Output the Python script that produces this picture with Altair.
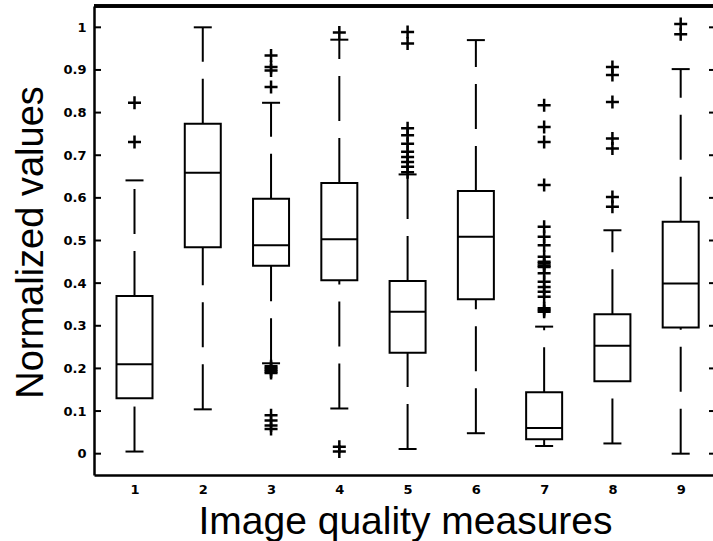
import altair as alt
import pandas as pd

# ---- data ----
measures = [1, 2, 3, 4, 5, 6, 7, 8, 9]
q1 = [0.130, 0.484, 0.441, 0.407, 0.237, 0.362, 0.034, 0.170, 0.296]
medians = [0.210, 0.659, 0.489, 0.503, 0.333, 0.509, 0.060, 0.253, 0.399]
q3 = [0.370, 0.774, 0.598, 0.635, 0.405, 0.616, 0.144, 0.327, 0.544]
whisker_low = [0.005, 0.104, 0.212, 0.106, 0.011, 0.048, 0.018, 0.024, 0.000]
whisker_high = [0.641, 1.000, 0.823, 0.971, 0.655, 0.970, 0.298, 0.524, 0.902]
outliers = [
    [0.823, 0.731],
    [],
    [0.934, 0.907, 0.899, 0.860, 0.205, 0.201, 0.197, 0.193, 0.189,
     0.090, 0.078, 0.066, 0.058],
    [0.988, 0.016, 0.005],
    [0.989, 0.962, 0.763, 0.747, 0.727, 0.708, 0.696, 0.684, 0.673, 0.660],
    [],
    [0.817, 0.766, 0.731, 0.630, 0.532, 0.509, 0.489, 0.462, 0.450, 0.446,
     0.441, 0.438, 0.423, 0.403, 0.391, 0.380, 0.368, 0.341, 0.337, 0.333],
    [0.907, 0.888, 0.825, 0.739, 0.716, 0.602, 0.579],
    [1.008, 0.984],
]
y_ticks = [0, 0.1, 0.2, 0.3, 0.4, 0.5, 0.6, 0.7, 0.8, 0.9, 1]
x_title = "Image quality measures"
y_title = "Normalized values"

boxes = pd.DataFrame({
    "measure": measures, "q1": q1, "median": medians, "q3": q3,
    "lo": whisker_low, "hi": whisker_high,
})
out_df = pd.DataFrame(
    [{"measure": m, "value": v} for m, vals in zip(measures, outliers) for v in vals]
)
ticks_df = pd.DataFrame({"tick": y_ticks})

W, H = 619, 469

x_scale = alt.Scale(domain=[0.48, 9.4], nice=False, zero=False)
y_scale = alt.Scale(domain=[-0.05, 1.05], nice=False, zero=False)

x_axis = alt.Axis(
    values=measures, format="d", ticks=False, tickSize=0, grid=False,
    domainColor="black", domainWidth=2.5,
    labelFont="DejaVu Sans", labelFontWeight="bold", labelFontSize=13,
    labelColor="black", labelPadding=8, labelFlush=False,
    title=x_title, titleFont="Liberation Sans", titleFontSize=39,
    titleFontWeight="normal", titleColor="black",
    titleX=311, titleY=58, titleBaseline="alphabetic", titleAlign="center",
)
y_axis = alt.Axis(
    values=y_ticks, format=".1~f", ticks=False, tickSize=0, grid=False,
    domainColor="black", domainWidth=2.5,
    labelFont="DejaVu Sans", labelFontWeight="bold", labelFontSize=13,
    labelColor="black", labelPadding=8,
    title=y_title, titleFont="Liberation Sans", titleFontSize=38,
    titleFontWeight="normal", titleColor="black", titleAngle=270,
    titleX=-52, titleY=236, titleBaseline="alphabetic", titleAlign="center",
)


def X():
    return alt.X("measure:Q", scale=x_scale, axis=x_axis, title=x_title)


def Y(field):
    return alt.Y(field, type="quantitative", scale=y_scale, axis=y_axis, title=y_title)


base = alt.Chart(boxes)

box = base.mark_bar(size=36, orient="vertical", fill="white", fillOpacity=0,
                    stroke="black", strokeWidth=2).encode(
    x=X(), y=Y("q1"), y2="q3")

median = base.mark_tick(orient="horizontal", size=36, thickness=2, color="black",
                        opacity=1).encode(x=X(), y=Y("median"))

cap_lo = base.mark_tick(orient="horizontal", size=18, thickness=2, color="black",
                        opacity=1).encode(x=X(), y=Y("lo"))
cap_hi = base.mark_tick(orient="horizontal", size=18, thickness=2, color="black",
                        opacity=1).encode(x=X(), y=Y("hi"))

whisk_up = base.mark_rule(color="black", strokeWidth=2, strokeDash=[45, 17]).encode(
    x=X(), y=Y("q3"), y2="hi")
whisk_dn = base.mark_rule(color="black", strokeWidth=2, strokeDash=[45, 17]).encode(
    x=X(), y=Y("lo"), y2="q1")

pts = alt.Chart(out_df).mark_point(
    shape="M-1,0L1,0M0,-1L0,1", size=169, filled=False, color="black",
    strokeWidth=2.5, opacity=1).encode(x=X(), y=Y("value"))

left_ticks = alt.Chart(ticks_df).mark_rule(color="black", strokeWidth=2).encode(
    x=alt.value(0), x2=alt.value(7), y=Y("tick"))
right_ticks = alt.Chart(ticks_df).mark_rule(color="black", strokeWidth=2).encode(
    x=alt.value(W - 4), x2=alt.value(W), y=Y("tick"))

top_line = alt.Chart(ticks_df).mark_rule(color="black", strokeWidth=2.5).encode(
    x=alt.value(0), x2=alt.value(W), y=alt.value(0))

chart = alt.layer(
    whisk_up, whisk_dn, cap_lo, cap_hi, box, median, pts,
    left_ticks, right_ticks, top_line,
).properties(
    width=W, height=H,
    autosize=alt.AutoSizeParams(type="none"),
    padding={"left": 94, "top": 6, "right": 0, "bottom": 66},
    background="white",
).configure_view(strokeWidth=0)

chart.save("out.html", embed_options={"renderer": "svg", "actions": False})
